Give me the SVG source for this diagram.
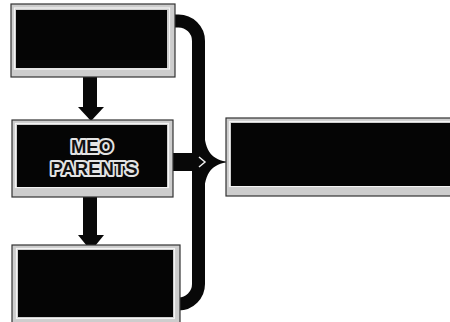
<svg xmlns="http://www.w3.org/2000/svg" width="450" height="322" viewBox="0 0 450 322">
  <style>
    .frame { fill: #cdcdcd; stroke: #333; stroke-width: 1.2; }
    .line { fill: none; stroke: #f4f4f4; stroke-width: 1.2; }
    .core { fill: #050505; }
    .conn { fill: none; stroke: #080808; stroke-width: 13; }
    .solid { fill: #080808; }
    .lbl { font-family: "Liberation Sans", Arial, sans-serif; font-weight: bold; font-size: 18.5px; fill: #111; stroke: #e4e4e4; stroke-width: 4; paint-order: stroke; stroke-linejoin: round; text-anchor: middle; }
  </style>
  <rect width="450" height="322" fill="#ffffff"/>

  <g id="connectors">
    <!-- down arrows -->
    <rect class="solid" x="83" y="76" width="14" height="32"/>
    <polygon class="solid" points="78,107 104,107 91,121"/>
    <rect class="solid" x="83" y="195" width="14" height="41"/>
    <polygon class="solid" points="78,235 104,235 91,251"/>
    <!-- brace -->
    <path class="conn" d="M174,21 H178 A20,20 0 0 1 198.5,41 V284 A20,20 0 0 1 178.5,304 H178"/>
    <path class="solid" d="M204,130 C205,152 212,160 229,162 C212,164 205,172 204,194 Z"/>
    <!-- bar from middle box -->
    <rect class="solid" x="171" y="153" width="26" height="18"/>
    <polyline points="199,157 205,162 199,167" fill="none" stroke="#f0f0f0" stroke-width="1.5"/>
  </g>

  <g id="node-top">
    <rect class="frame" x="11" y="4" width="164" height="73"/>
    <rect class="line" x="14.5" y="8" width="155" height="61"/>
    <rect class="core" x="16" y="10" width="151" height="58"/>
  </g>

  <g id="node-parents">
    <rect class="frame" x="12" y="120" width="161" height="77"/>
    <rect class="line" x="15.5" y="123.5" width="153" height="64"/>
    <rect class="core" x="17" y="125" width="150" height="62"/>
    <text class="lbl" x="92" y="153">MEO</text>
    <text class="lbl" x="94" y="175">PARENTS</text>
  </g>

  <g id="node-bottom">
    <rect class="frame" x="12" y="245" width="168" height="79"/>
    <rect class="line" x="16.5" y="248.5" width="158" height="70"/>
    <rect class="core" x="18" y="250" width="155" height="67"/>
  </g>

  <g id="node-right">
    <rect class="frame" x="226" y="118" width="226" height="78"/>
    <rect class="line" x="229.5" y="121.5" width="222" height="65"/>
    <rect class="core" x="231" y="123" width="221" height="63"/>
  </g>
</svg>
